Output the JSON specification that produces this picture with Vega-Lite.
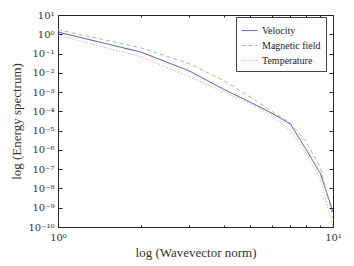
{
  "$schema": "https://vega.github.io/schema/vega-lite/v6.json",
  "width": 275,
  "height": 212,
  "autosize": {"type": "none"},
  "padding": {"left": 58, "top": 15, "right": 21, "bottom": 39},
  "background": "white",
  "config": {
    "font": "Liberation Serif",
    "view": {"stroke": "#222", "strokeWidth": 1},
    "style": {"guide-label": {"font": "Liberation Serif"}},
    "axis": {"grid": false, "domain": false, "labelFont": "DejaVu Serif", "titleFont": "Liberation Serif", "titleFontWeight": "normal", "labelColor": "#333", "titleColor": "#333", "tickColor": "#222"},
    "legend": {"labelFont": "Liberation Serif"}
  },
  "data": {"values": [
    {"k": 1, "s": "Velocity", "e": 1.3},
    {"k": 2, "s": "Velocity", "e": 0.12},
    {"k": 3, "s": "Velocity", "e": 0.0126},
    {"k": 4, "s": "Velocity", "e": 0.0014},
    {"k": 5, "s": "Velocity", "e": 0.0003},
    {"k": 6, "s": "Velocity", "e": 0.00008},
    {"k": 7, "s": "Velocity", "e": 0.000022},
    {"k": 8, "s": "Velocity", "e": 0.000001},
    {"k": 9, "s": "Velocity", "e": 6e-8},
    {"k": 10, "s": "Velocity", "e": 6e-10},
    {"k": 1, "s": "Magnetic field", "e": 1.7},
    {"k": 2, "s": "Magnetic field", "e": 0.2},
    {"k": 3, "s": "Magnetic field", "e": 0.03},
    {"k": 4, "s": "Magnetic field", "e": 0.004},
    {"k": 5, "s": "Magnetic field", "e": 0.00056},
    {"k": 6, "s": "Magnetic field", "e": 0.0001},
    {"k": 7, "s": "Magnetic field", "e": 0.000025},
    {"k": 8, "s": "Magnetic field", "e": 0.0000025},
    {"k": 9, "s": "Magnetic field", "e": 1.2e-7},
    {"k": 10, "s": "Magnetic field", "e": 3e-10},
    {"k": 1, "s": "Temperature", "e": 0.9},
    {"k": 2, "s": "Temperature", "e": 0.068},
    {"k": 3, "s": "Temperature", "e": 0.0063},
    {"k": 4, "s": "Temperature", "e": 0.001},
    {"k": 5, "s": "Temperature", "e": 0.00025},
    {"k": 6, "s": "Temperature", "e": 0.000063},
    {"k": 7, "s": "Temperature", "e": 0.00001},
    {"k": 8, "s": "Temperature", "e": 6.3e-7},
    {"k": 9, "s": "Temperature", "e": 3e-8},
    {"k": 10, "s": "Temperature", "e": 1e-10}
  ]},
  "layer": [
    {
      "mark": {"type": "line", "strokeWidth": 1, "clip": true},
      "encoding": {
        "x": {"field": "k", "type": "quantitative", "scale": {"type": "log", "domain": [1, 10], "nice": false},
          "axis": {"title": "log (Wavevector norm)", "titleFontSize": 13, "titlePadding": 4, "labelFont": "DejaVu Serif", "labelFontSize": 10, "values": [1, 2, 3, 4, 5, 6, 7, 8, 9, 10],
            "labelExpr": "datum.value == 1 ? '10⁰' : (datum.value == 10 ? '10¹' : '')",
            "tickSize": {"condition": {"test": "datum.value == 1 || datum.value == 10", "value": -4}, "value": -2}, "labelPadding": 9, "labelFlush": false}},
        "y": {"field": "e", "type": "quantitative", "scale": {"type": "log", "domain": [1e-10, 10], "nice": false},
          "axis": {"title": "log (Energy spectrum)", "titleFontSize": 13, "titlePadding": 4, "labelFont": "DejaVu Serif", "labelFontSize": 10, "values": [1e-10, 1e-9, 1e-8, 1e-7, 1e-6, 1e-5, 1e-4, 1e-3, 1e-2, 1e-1, 1, 10],
            "labelExpr": "'10' + ['⁻¹⁰','⁻⁹','⁻⁸','⁻⁷','⁻⁶','⁻⁵','⁻⁴','⁻³','⁻²','⁻¹','⁰','¹'][round(log(datum.value)/LN10) + 10]",
            "tickSize": -4, "labelPadding": 8}},
        "color": {"field": "s", "type": "nominal", "scale": {"domain": ["Velocity", "Magnetic field", "Temperature"], "range": ["#4646b4", "#9cc488", "#f08a8a"]},
          "legend": {"title": null, "orient": "none", "legendX": 178, "legendY": 2, "strokeColor": "#444", "fillColor": "white", "padding": 5, "labelFontSize": 10, "labelFont": "Liberation Serif", "labelColor": "#222", "symbolType": "stroke", "symbolSize": 250, "symbolStrokeWidth": 1, "rowPadding": 1, "cornerRadius": 0}},
        "strokeDash": {"field": "s", "type": "nominal", "scale": {"domain": ["Velocity", "Magnetic field", "Temperature"], "range": [[1, 0], [4, 3], [1, 2]]}, "legend": {"title": null, "labelFont": "Liberation Serif"}},
        "order": {"field": "k"}
      }
    },
    {
      "mark": {"type": "point", "opacity": 0},
      "encoding": {
        "x": {"field": "k", "type": "quantitative", "scale": {"type": "log", "domain": [1, 10], "nice": false},
          "axis": {"orient": "top", "title": null, "labels": false, "values": [1, 2, 3, 4, 5, 6, 7, 8, 9, 10],
            "tickSize": {"condition": {"test": "datum.value == 1 || datum.value == 10", "value": -4}, "value": -2}}},
        "y": {"field": "e", "type": "quantitative", "scale": {"type": "log", "domain": [1e-10, 10], "nice": false},
          "axis": {"orient": "right", "title": null, "labels": false, "values": [1e-10, 1e-9, 1e-8, 1e-7, 1e-6, 1e-5, 1e-4, 1e-3, 1e-2, 1e-1, 1, 10], "tickSize": -4}}
      }
    }
  ],
  "resolve": {"scale": {"x": "independent", "y": "independent"}}
}
